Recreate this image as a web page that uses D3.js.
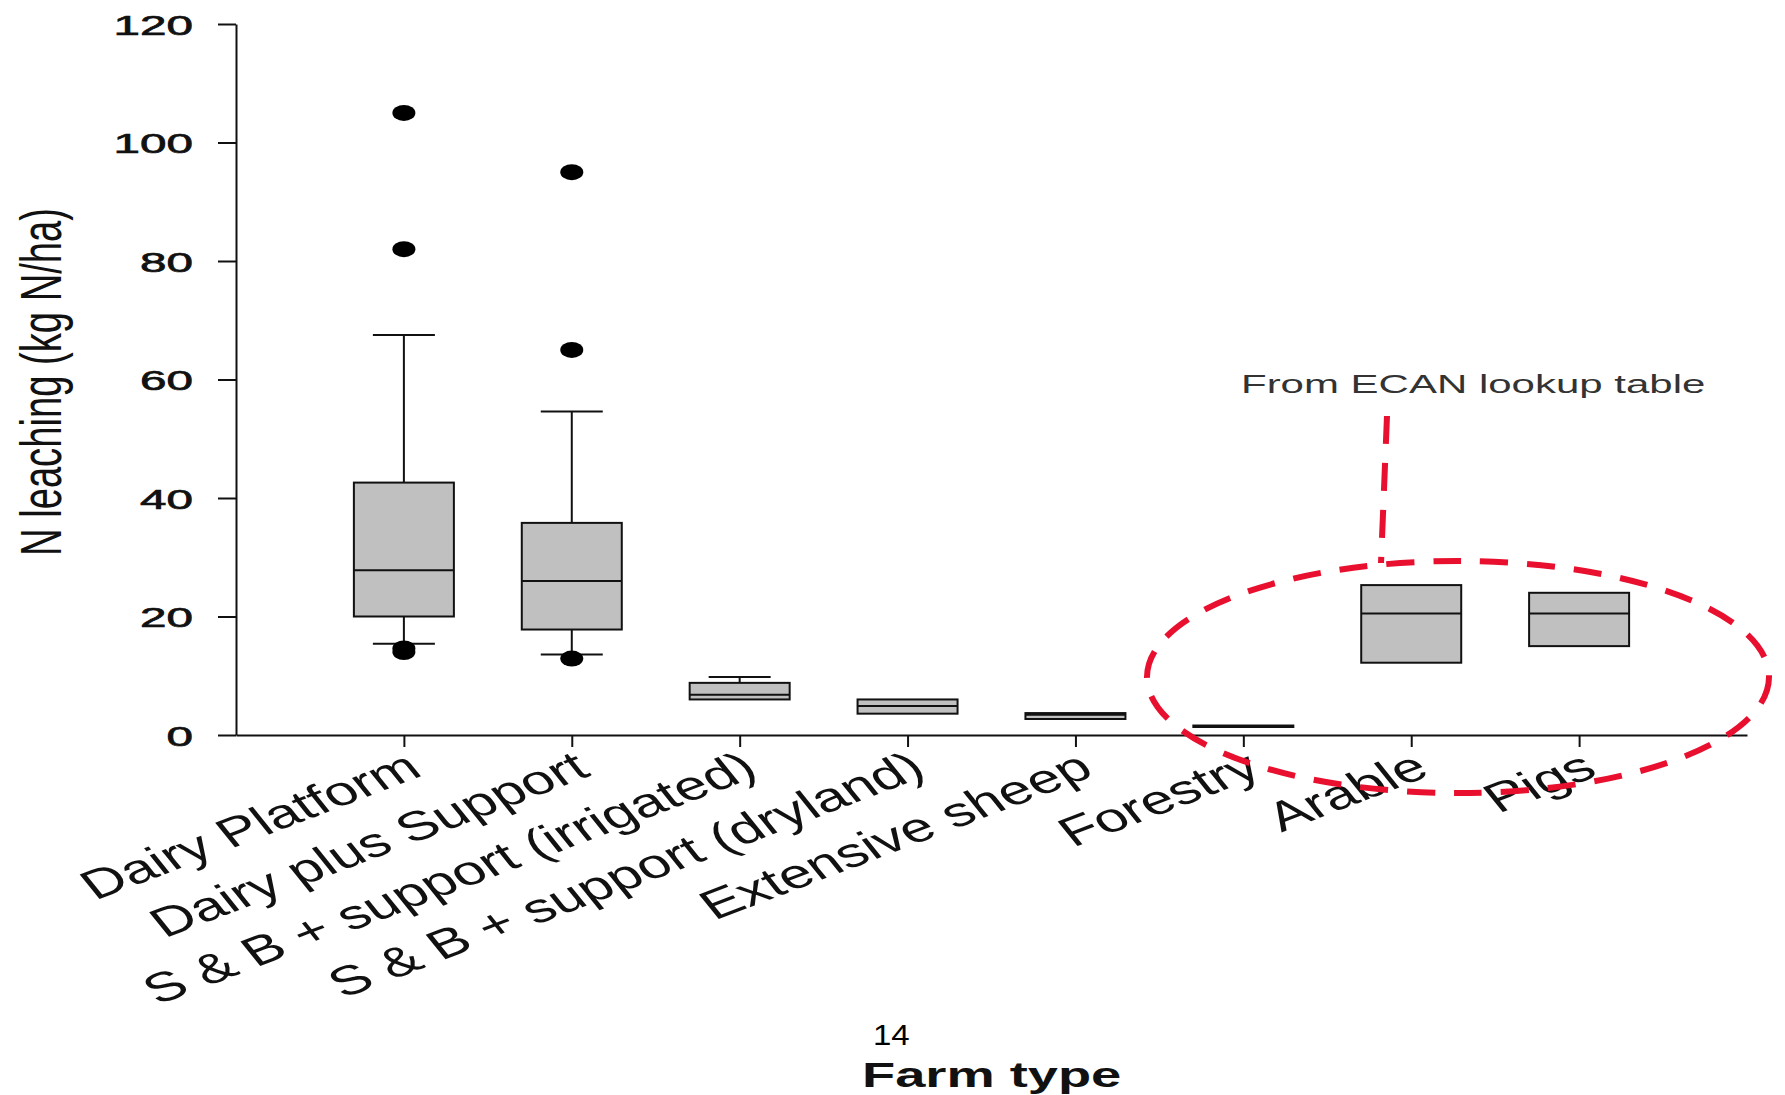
<!DOCTYPE html>
<html>
<head>
<meta charset="utf-8">
<script src="https://cdn.jsdelivr.net/npm/d3@7"></script>
<style>
  body { margin: 0; background: #fff; }
  text { font-family: "Liberation Sans", Arial, sans-serif; }
</style>
</head>
<body>
<div id="chart"></div>
<script>
// data
const farmTypes = ["Dairy Platform", "Dairy plus Support", "S & B + support (irrigated)",
  "S & B + support (dryland)", "Extensive sheep", "Forestry", "Arable", "Pigs"];
const q1 = [20, 17.8, 6.0, 3.6, 2.7, 1.35, 12.2, 15.0];
const median = [27.8, 26, 6.8, 4.9, 3.4, 1.5, 20.5, 20.5];
const q3 = [42.6, 35.8, 8.8, 6.0, 3.7, 1.6, 25.3, 24.0];
const whiskerLow = [15.4, 13.6, null, null, null, null, null, null];
const whiskerHigh = [67.5, 54.6, 9.8, null, null, null, null, null];
const outliers = [[105, 82, 14.0, 14.6], [95, 65, 12.9], [], [], [], [], [], []];
const yTicks = [0, 20, 40, 60, 80, 100, 120];

const width = 1785, height = 1095;
const x0 = 236, x1 = 1747, yBase = 735, yTop = 24;
const boxW = 100, capW = 62;

const svg = d3.select("#chart").append("svg")
  .attr("width", width)
  .attr("height", height);

const xScale = d3.scalePoint().domain(farmTypes).range([x0, x1]).padding(1);
const yScale = d3.scaleLinear().domain([0, 120]).range([yBase, yTop]);

//y axis
const yAxisGroup = svg.append("g")
  .attr("transform", "translate(" + x0 + ",0)")
  .call(d3.axisLeft(yScale).tickValues(yTicks).tickSize(18).tickSizeOuter(0));
yAxisGroup.selectAll("text")
  .attr("x", null)
  .attr("dy", "0.36em")
  .attr("transform", "translate(-43,0) scale(1.7,1)")
  .style("font-size", "28px")
  .style("fill", "#111")
  .style("stroke", "#111")
  .style("stroke-width", 0.7);

//x axis
const xAxisGroup = svg.append("g")
  .attr("transform", "translate(0," + yBase + ")")
  .call(d3.axisBottom(xScale).tickSize(12).tickSizeOuter(0));
xAxisGroup.selectAll("text")
  .attr("y", 0)
  .attr("dy", 0)
  .attr("text-anchor", "end")
  .attr("transform", "translate(20,40) scale(1.45,1) rotate(-29)")
  .style("font-size", "41px")
  .style("fill", "#111");

svg.selectAll(".domain, .tick line")
  .attr("stroke", "#111")
  .attr("stroke-width", 2);

//boxes
const boxes = svg.selectAll(".box")
  .data(farmTypes).enter().append("g")
  .attr("class", "box")
  .attr("transform", function(d) { return "translate(" + xScale(d) + ",0)"; });

boxes.each(function(d, i) {
  const g = d3.select(this);
  if (whiskerHigh[i] != null) {
    g.append("line").attr("x1", 0).attr("x2", 0)
      .attr("y1", yScale(q3[i])).attr("y2", yScale(whiskerHigh[i]));
    g.append("line").attr("x1", -capW / 2).attr("x2", capW / 2)
      .attr("y1", yScale(whiskerHigh[i])).attr("y2", yScale(whiskerHigh[i]));
  }
  if (whiskerLow[i] != null) {
    g.append("line").attr("x1", 0).attr("x2", 0)
      .attr("y1", yScale(q1[i])).attr("y2", yScale(whiskerLow[i]));
    g.append("line").attr("x1", -capW / 2).attr("x2", capW / 2)
      .attr("y1", yScale(whiskerLow[i])).attr("y2", yScale(whiskerLow[i]));
  }
  g.append("rect")
    .attr("x", -boxW / 2)
    .attr("width", boxW)
    .attr("y", yScale(q3[i]))
    .attr("height", yScale(q1[i]) - yScale(q3[i]))
    .attr("fill", "#c0c0c0");
  g.append("line").attr("x1", -boxW / 2).attr("x2", boxW / 2)
    .attr("y1", yScale(median[i])).attr("y2", yScale(median[i]));
  g.selectAll("line, rect").attr("stroke", "#111").attr("stroke-width", 2);

  g.selectAll(".outlier")
    .data(outliers[i]).enter().append("ellipse")
    .attr("class", "outlier")
    .attr("cx", 0)
    .attr("cy", function(v) { return yScale(v); })
    .attr("rx", 11.5)
    .attr("ry", 8)
    .attr("fill", "#000");
});

//axis titles
svg.append("text")
  .attr("text-anchor", "middle")
  .attr("transform", "translate(61,382) rotate(-90) scale(0.67,1)")
  .style("font-size", "57px")
  .style("fill", "#111")
  .text("N leaching (kg N/ha)");

svg.append("text")
  .attr("transform", "translate(862,1087) scale(1.55,1)")
  .style("font-size", "35px")
  .style("font-weight", "bold")
  .style("fill", "#111")
  .text("Farm type");

svg.append("text")
  .attr("transform", "translate(873,1045) scale(1.1,1)")
  .style("font-size", "30px")
  .style("fill", "#000")
  .text("14");

//ECAN annotation
const red = "#e8102e";
svg.append("ellipse")
  .attr("cx", 1458).attr("cy", 677)
  .attr("rx", 311).attr("ry", 116)
  .attr("fill", "none")
  .attr("stroke", red)
  .attr("stroke-width", 6)
  .attr("stroke-dasharray", "28 19");
svg.append("line")
  .attr("x1", 1387).attr("y1", 416)
  .attr("x2", 1381).attr("y2", 563)
  .attr("stroke", red)
  .attr("stroke-width", 6)
  .attr("stroke-dasharray", "28 19");
svg.append("text")
  .attr("transform", "translate(1241,393) scale(1.68,1)")
  .style("font-size", "25px")
  .style("fill", "#333")
  .text("From ECAN lookup table");
</script>
</body>
</html>
